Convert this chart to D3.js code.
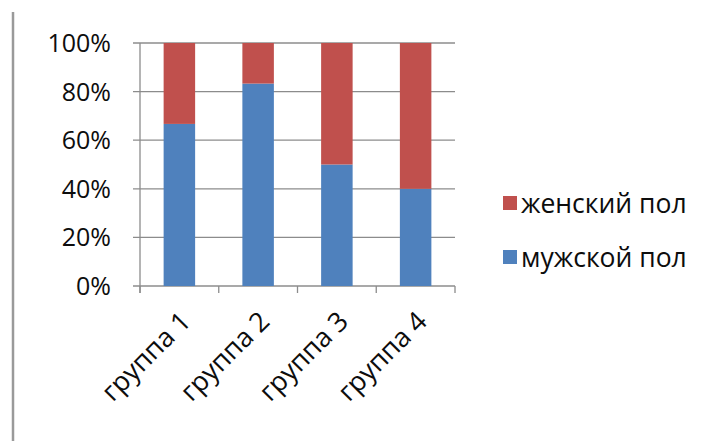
<!DOCTYPE html>
<html>
<head>
<meta charset="utf-8">
<script src="https://cdn.jsdelivr.net/npm/d3@7.9.0/dist/d3.min.js"></script>
<style>
  body { margin: 0; background: #fff; }
  svg { display: block; font-family: "Open Sans", sans-serif; }
</style>
</head>
<body>
<svg id="chart" width="712" height="441"></svg>
<script>
const groups = ['группа 1', 'группа 2', 'группа 3', 'группа 4'];
const male = [0.667, 0.833, 0.5, 0.4];
const female = [0.333, 0.167, 0.5, 0.6];
const seriesNames = ['мужской пол', 'женский пол'];
const seriesColors = ['#4f81bd', '#c0504d'];
const yTicks = [0, 0.2, 0.4, 0.6, 0.8, 1];

const svg = d3.select('#chart');

// frame line on the left
svg.append('line')
    .attr('x1', 13).attr('x2', 13)
    .attr('y1', 12).attr('y2', 441)
    .attr('stroke', '#9a9a9a')
    .attr('stroke-width', 2.5);

const plot = { left: 140, right: 455, top: 43, bottom: 286 };

const x = d3.scaleBand()
    .domain(groups)
    .range([plot.left, plot.right])
    .paddingInner(0.6)
    .paddingOuter(0.3);

const y = d3.scaleLinear().domain([0, 1]).range([plot.bottom, plot.top]);

const rows = groups.map((g, i) => ({ group: g, 'мужской пол': male[i], 'женский пол': female[i] }));
const stacked = d3.stack().keys(seriesNames)(rows);

// gridlines
svg.append('g')
    .selectAll('line')
    .data(yTicks)
    .join('line')
    .attr('x1', plot.left - 7)
    .attr('x2', plot.right)
    .attr('y1', d => y(d))
    .attr('y2', d => y(d))
    .attr('stroke', '#8c8c8c')
    .attr('stroke-width', 1.3);

// y axis line
svg.append('line')
    .attr('x1', plot.left).attr('x2', plot.left)
    .attr('y1', plot.top).attr('y2', plot.bottom + 7)
    .attr('stroke', '#8c8c8c')
    .attr('stroke-width', 1.3);

// x tick marks at category boundaries
const step = x.step();
const xTickPos = d3.range(groups.length + 1).map(i => plot.left + i * step);
svg.append('g')
    .selectAll('line')
    .data(xTickPos)
    .join('line')
    .attr('x1', d => d).attr('x2', d => d)
    .attr('y1', plot.bottom).attr('y2', plot.bottom + 7)
    .attr('stroke', '#8c8c8c')
    .attr('stroke-width', 1.3);

// bars
svg.append('g')
    .selectAll('g')
    .data(stacked)
    .join('g')
    .attr('fill', (d, i) => seriesColors[i])
    .selectAll('rect')
    .data(d => d)
    .join('rect')
    .attr('x', d => x(d.data.group))
    .attr('width', x.bandwidth())
    .attr('y', d => y(d[1]))
    .attr('height', d => y(d[0]) - y(d[1]));

// y labels
svg.append('g')
    .selectAll('text')
    .data(yTicks)
    .join('text')
    .attr('x', 111)
    .attr('y', d => y(d))
    .attr('dy', '0.36em')
    .attr('text-anchor', 'end')
    .attr('font-size', 25)
    .attr('fill', '#0d0d0d')
    .text(d3.format('.0%'));

// x labels, rotated
svg.append('g')
    .selectAll('text')
    .data(groups)
    .join('text')
    .attr('transform', d => `translate(${x(d) + x.bandwidth() / 2 + 13},${plot.bottom + 37}) rotate(-45)`)
    .attr('text-anchor', 'end')
    .attr('font-size', 27)
    .attr('fill', '#0d0d0d')
    .text(d => d);

// legend (женский on top)
const legendItems = [
  { name: seriesNames[1], color: seriesColors[1], cy: 203 },
  { name: seriesNames[0], color: seriesColors[0], cy: 257 }
];
const legend = svg.append('g');
legend.selectAll('rect')
    .data(legendItems)
    .join('rect')
    .attr('x', 503)
    .attr('y', d => d.cy - 7)
    .attr('width', 14)
    .attr('height', 14)
    .attr('fill', d => d.color);
legend.selectAll('text')
    .data(legendItems)
    .join('text')
    .attr('x', 521)
    .attr('y', d => d.cy)
    .attr('dy', '0.36em')
    .attr('font-size', 26.5)
    .attr('fill', '#0d0d0d')
    .text(d => d.name);
</script>
</body>
</html>
